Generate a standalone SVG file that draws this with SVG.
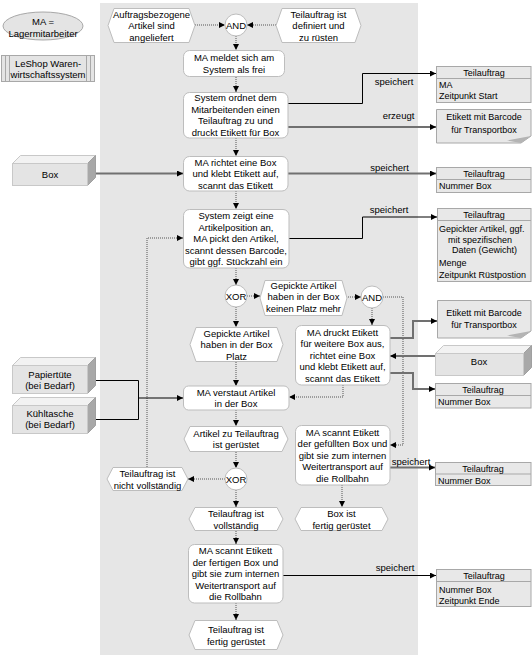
<svg xmlns="http://www.w3.org/2000/svg" width="532" height="660" viewBox="0 0 532 660">
<defs>
<marker id="ah" markerUnits="userSpaceOnUse" markerWidth="7" markerHeight="7" refX="6" refY="3" orient="auto"><path d="M0,0 L6,3 L0,6 z" fill="#000"/></marker>
<style>
text{font-family:"Liberation Sans",Arial,sans-serif;font-size:9.5px;fill:#000}
.c{text-anchor:middle}
.d{font-size:9px}
.node{fill:#fff;stroke:#bdbdbd;stroke-width:1}
.data{fill:#e8e8e8;stroke:#a8a8a8;stroke-width:1}
.dot{fill:none;stroke:#555;stroke-width:1;stroke-dasharray:1 1;marker-end:url(#ah)}
.blk{fill:none;stroke:#000;stroke-width:1}
.gry{fill:none;stroke:#707070;stroke-width:2}
.arr{marker-end:url(#ah)}
.top{fill:#f2f2f2;stroke:#c8c8c8}
.front{fill:#e4e4e4;stroke:#c8c8c8}
.side{fill:#a8a8a8;stroke:#a0a0a0}
</style>
</defs>
<rect x="0" y="0" width="532" height="660" fill="#fff"/>
<rect x="100" y="3" width="318" height="652" fill="#e6e6e6"/>

<!-- legend -->
<g id="legend-ma">
<ellipse cx="43" cy="26" rx="40" ry="14" fill="#e4e4e4" stroke="#a8a8a8"/>
<text class="c" x="43" y="25">MA =</text>
<text class="c" x="43" y="36.8">Lagermitarbeiter</text>
</g>
<g id="legend-leshop">
<rect x="1.5" y="55.5" width="93" height="26" fill="#e4e4e4" stroke="#a8a8a8"/>
<line x1="5.5" y1="55.5" x2="5.5" y2="81.5" stroke="#a8a8a8"/>
<line x1="9.5" y1="55.5" x2="9.5" y2="81.5" stroke="#a8a8a8"/>
<line x1="86.5" y1="55.5" x2="86.5" y2="81.5" stroke="#a8a8a8"/>
<line x1="90.5" y1="55.5" x2="90.5" y2="81.5" stroke="#a8a8a8"/>
<text class="c" x="48" y="66.5">LeShop Waren-</text>
<text class="c" x="48" y="77.5">wirtschaftssystem</text>
</g>

<!-- connectors -->
<g id="connectors">
<path class="dot" d="M195,25 H225"/>
<path class="dot" d="M276,25 H247"/>
<path class="dot" d="M236,36 V50"/>
<path class="dot" d="M236,77 V92"/>
<path class="dot" d="M236,138 V156"/>
<path class="dot" d="M236,191 V209"/>
<path class="dot" d="M236,268 V285"/>
<path class="dot" d="M247,296 H260"/>
<path class="dot" d="M346,297 H361"/>
<path class="dot" d="M372,308 V325"/>
<path class="dot" d="M383,297 H403 V445 H390"/>
<path class="dot" d="M236,307 V327"/>
<path class="dot" d="M236,362 V386"/>
<path class="dot" d="M343,385 V397 H289"/>
<path class="dot" d="M236,410 V426"/>
<path class="dot" d="M236,452 V468"/>
<path class="dot" d="M225,479 H188"/>
<path class="dot" d="M147,467 V238 H183"/>
<path class="dot" d="M236,490 V507"/>
<path class="dot" d="M236,531 V544"/>
<path class="dot" d="M236,603 V620"/>
<path class="dot" d="M342,485 V507"/>

<path class="blk arr" d="M288,103.5 H362.5 V73.5 H436"/>
<path class="gry arr" d="M288,127 H436"/>
<path class="gry arr" d="M87,173.5 H183"/>
<path class="gry arr" d="M288,173.5 H436"/>
<path class="blk arr" d="M289,238.5 H362.5 V217 H437"/>
<path class="gry arr" d="M390,338 H413 V321 H437"/>
<path class="gry arr" d="M435,356 H390"/>
<path class="gry arr" d="M390,373 H413 V389 H435"/>
<path class="gry arr" d="M390,467.5 H435"/>
<path class="blk arr" d="M283,575.5 H436"/>
<path class="blk" d="M87,380.5 H138.5 V419.5 H87"/>
<path class="blk arr" d="M138.5,398 H183"/>

<text class="c" x="394" y="85">speichert</text>
<text class="c" x="398.5" y="118.5">erzeugt</text>
<text class="c" x="389.5" y="170.5">speichert</text>
<text class="c" x="389" y="212.5">speichert</text>
<text class="c" x="411" y="464.5">speichert</text>
<text class="c" x="395" y="571">speichert</text>
</g>

<!-- flow nodes -->
<g id="ev-artikel-angeliefert">
<polygon class="node" points="114,8.5 189,8.5 195,25.5 189,42.5 114,42.5 108,25.5"/>
<text class="c" x="151.5" y="17.5">Auftragsbezogene</text>
<text class="c" x="151.5" y="29">Artikel sind</text>
<text class="c" x="151.5" y="40.5">angeliefert</text>
</g>
<g id="ev-teilauftrag-definiert">
<polygon class="node" points="282,8.5 355,8.5 361,25.5 355,42.5 282,42.5 276,25.5"/>
<text class="c" x="318.5" y="17.5">Teilauftrag ist</text>
<text class="c" x="318.5" y="29">definiert und</text>
<text class="c" x="318.5" y="40.5">zu rüsten</text>
</g>
<g id="and1">
<circle class="node" cx="236" cy="25" r="11"/>
<text class="c" x="236" y="28.5">AND</text>
</g>
<g id="fn-meldet">
<rect class="node" x="183.5" y="50.5" width="101" height="26" rx="6"/>
<text class="c" x="234" y="61">MA meldet sich am</text>
<text class="c" x="234" y="72.5">System als frei</text>
</g>
<g id="fn-ordnet">
<rect class="node" x="183.5" y="92.5" width="104.5" height="45.5" rx="6"/>
<text class="c" x="235.5" y="101.3">System ordnet dem</text>
<text class="c" x="235.5" y="112.8">Mitarbeitenden einen</text>
<text class="c" x="235.5" y="124.3">Teilauftrag zu und</text>
<text class="c" x="235.5" y="135.8">druckt Etikett für Box</text>
</g>
<g id="fn-richtet">
<rect class="node" x="183.5" y="156.5" width="104.5" height="34.5" rx="6"/>
<text class="c" x="235.5" y="165.5">MA richtet eine Box</text>
<text class="c" x="235.5" y="177">und klebt Etikett auf,</text>
<text class="c" x="235.5" y="188.5">scannt das Etikett</text>
</g>
<g id="fn-zeigt">
<rect class="node" x="183.5" y="209.5" width="105.5" height="58.5" rx="6"/>
<text class="c" x="236" y="219">System zeigt eine</text>
<text class="c" x="236" y="230.5">Artikelposition an,</text>
<text class="c" x="236" y="242">MA pickt den Artikel,</text>
<text class="c" x="236" y="253.5">scannt dessen Barcode,</text>
<text class="c" x="236" y="265">gibt ggf. Stückzahl ein</text>
</g>
<g id="xor1">
<circle class="node" cx="236" cy="296" r="11"/>
<text class="c" x="236" y="299.5">XOR</text>
</g>
<g id="ev-kein-platz">
<polygon class="node" points="265,280.5 342,280.5 347,298 342,315.5 265,315.5 260,298"/>
<text class="c" x="303.5" y="288.5">Gepickte Artikel</text>
<text class="c" x="303.5" y="300">haben in der Box</text>
<text class="c" x="303.5" y="311.5" textLength="75">keinen Platz mehr</text>
</g>
<g id="and2">
<circle class="node" cx="372" cy="297" r="11"/>
<text class="c" x="372" y="300.5">AND</text>
</g>
<g id="ev-platz">
<polygon class="node" points="196,327.5 277,327.5 283,344.5 277,361.5 196,361.5 190,344.5"/>
<text class="c" x="236.5" y="336.5">Gepickte Artikel</text>
<text class="c" x="236.5" y="348">haben in der Box</text>
<text class="c" x="236.5" y="359.5">Platz</text>
</g>
<g id="fn-druckt">
<rect class="node" x="295.5" y="325.5" width="94.5" height="59.5" rx="6"/>
<text class="c" x="342.5" y="335.5">MA druckt Etikett</text>
<text class="c" x="342.5" y="347">für weitere Box aus,</text>
<text class="c" x="342.5" y="358.5">richtet eine Box</text>
<text class="c" x="342.5" y="370">und klebt Etikett auf,</text>
<text class="c" x="342.5" y="381.5">scannt das Etikett</text>
</g>
<g id="fn-verstaut">
<rect class="node" x="183.5" y="386" width="105.5" height="24" rx="5"/>
<text class="c" x="236" y="395.5">MA verstaut Artikel</text>
<text class="c" x="236" y="407">in der Box</text>
</g>
<g id="ev-artikel-geruestet">
<polygon class="node" points="190,426.5 282,426.5 288,439 282,451.5 190,451.5 184,439"/>
<text class="c" x="236" y="436.5">Artikel zu Teilauftrag</text>
<text class="c" x="236" y="448">ist gerüstet</text>
</g>
<g id="fn-scannt-gefuellt">
<rect class="node" x="295.5" y="425.5" width="94.5" height="59.5" rx="6"/>
<text class="c" x="342.5" y="435.5">MA scannt Etikett</text>
<text class="c" x="342.5" y="447">der gefüllten Box und</text>
<text class="c" x="342.5" y="458.5">gibt sie zum internen</text>
<text class="c" x="342.5" y="470">Weitertransport auf</text>
<text class="c" x="342.5" y="481.5">die Rollbahn</text>
</g>
<g id="xor2">
<circle class="node" cx="236" cy="479" r="11"/>
<text class="c" x="236" y="482.5">XOR</text>
</g>
<g id="ev-nicht-vollstaendig">
<polygon class="node" points="113,467.5 182,467.5 188,479 182,490.5 113,490.5 107,479"/>
<text class="c" x="147.5" y="477">Teilauftrag ist</text>
<text class="c" x="147.5" y="488.5">nicht vollständig</text>
</g>
<g id="ev-vollstaendig">
<polygon class="node" points="195,507.5 277,507.5 283,519 277,530.5 195,530.5 189,519"/>
<text class="c" x="236" y="517">Teilauftrag ist</text>
<text class="c" x="236" y="528.5">vollständig</text>
</g>
<g id="ev-box-fertig">
<polygon class="node" points="301,507.5 382,507.5 388,519 382,530.5 301,530.5 295,519"/>
<text class="c" x="341.5" y="517">Box ist</text>
<text class="c" x="341.5" y="528.5">fertig gerüstet</text>
</g>
<g id="fn-scannt-fertig">
<rect class="node" x="188.5" y="544.5" width="94.5" height="58.5" rx="6"/>
<text class="c" x="235.5" y="554">MA scannt Etikett</text>
<text class="c" x="235.5" y="565.5">der fertigen Box und</text>
<text class="c" x="235.5" y="577">gibt sie zum internen</text>
<text class="c" x="235.5" y="588.5">Weitertransport auf</text>
<text class="c" x="235.5" y="600">die Rollbahn</text>
</g>
<g id="ev-teilauftrag-fertig">
<polygon class="node" points="195,620.5 277,620.5 283,635 277,649.5 195,649.5 189,635"/>
<text class="c" x="236" y="633">Teilauftrag ist</text>
<text class="c" x="236" y="644.5">fertig gerüstet</text>
</g>

<!-- left resources -->
<g id="res-box">
<polygon class="top" points="12.5,163.5 20.5,155.5 95.5,155.5 87.5,163.5"/>
<polygon class="side" points="87.5,163.5 95.5,155.5 95.5,177.5 87.5,185.5"/>
<rect class="front" x="12.5" y="163.5" width="75" height="22"/>
<text class="c" x="50" y="177.5">Box</text>
</g>
<g id="res-papiertuete">
<polygon class="top" points="12.5,365.5 20.5,357.5 95.5,357.5 87.5,365.5"/>
<polygon class="side" points="87.5,365.5 95.5,357.5 95.5,385.5 87.5,393.5"/>
<rect class="front" x="12.5" y="365.5" width="75" height="28"/>
<text class="c" x="50" y="377.5">Papiertüte</text>
<text class="c" x="50" y="388.5">(bei Bedarf)</text>
</g>
<g id="res-kuehltasche">
<polygon class="top" points="12.5,405.5 20.5,397.5 95.5,397.5 87.5,405.5"/>
<polygon class="side" points="87.5,405.5 95.5,397.5 95.5,425.5 87.5,433.5"/>
<rect class="front" x="12.5" y="405.5" width="75" height="28"/>
<text class="c" x="50" y="417">Kühltasche</text>
<text class="c" x="50" y="428">(bei Bedarf)</text>
</g>

<!-- right data objects -->
<g id="data-start">
<rect class="data" x="436.5" y="66.5" width="94.5" height="36"/>
<line x1="436.5" y1="78.5" x2="531" y2="78.5" stroke="#a8a8a8"/>
<text class="c d" x="484" y="76">Teilauftrag</text>
<text class="d" x="439" y="87.5">MA</text>
<text class="d" x="439" y="98.5">Zeitpunkt Start</text>
</g>
<g id="doc-etikett1">
<polygon class="data" points="436.5,109.5 531,109.5 531,136 521,143 436.5,143"/>
<polygon points="531,136 507,140.5 521,143" fill="#b4b4b4"/>
<text class="c d" x="484" y="120">Etikett mit Barcode</text>
<text class="c d" x="484" y="133">für Transportbox</text>
</g>
<g id="data-nummer1">
<rect class="data" x="436.5" y="167.5" width="94.5" height="25"/>
<line x1="436.5" y1="179.5" x2="531" y2="179.5" stroke="#a8a8a8"/>
<text class="c d" x="484" y="177">Teilauftrag</text>
<text class="d" x="439" y="189">Nummer Box</text>
</g>
<g id="data-pick">
<rect class="data" x="437.5" y="208.5" width="93.5" height="73"/>
<line x1="437.5" y1="220.5" x2="531" y2="220.5" stroke="#a8a8a8"/>
<text class="c d" x="484" y="218">Teilauftrag</text>
<text class="d" x="439" y="231.5">Gepickter Artikel, ggf.</text>
<text class="d" x="448" y="242.5">mit spezifischen</text>
<text class="d" x="452" y="253">Daten (Gewicht)</text>
<text class="d" x="439" y="266">Menge</text>
<text class="d" x="439" y="278">Zeitpunkt Rüstpostion</text>
</g>
<g id="doc-etikett2">
<polygon class="data" points="437.5,300.5 531,300.5 531,331 521,338 437.5,338"/>
<polygon points="531,331 507,335.5 521,338" fill="#b4b4b4"/>
<text class="c d" x="484" y="316">Etikett mit Barcode</text>
<text class="c d" x="484" y="328">für Transportbox</text>
</g>
<g id="res-box2">
<polygon class="top" points="435.5,353.5 443.5,345.5 531.5,345.5 523.5,353.5"/>
<polygon class="side" points="523.5,353.5 531.5,345.5 531.5,367.5 523.5,375.5"/>
<rect class="front" x="435.5" y="353.5" width="88" height="22"/>
<text class="c" x="479" y="365">Box</text>
</g>
<g id="data-nummer2">
<rect class="data" x="435.5" y="383.5" width="95.5" height="24.5"/>
<line x1="435.5" y1="395.5" x2="531" y2="395.5" stroke="#a8a8a8"/>
<text class="c d" x="483" y="392.5">Teilauftrag</text>
<text class="d" x="438" y="405">Nummer Box</text>
</g>
<g id="data-nummer3">
<rect class="data" x="435.5" y="462.5" width="95.5" height="23"/>
<line x1="435.5" y1="474" x2="531" y2="474" stroke="#a8a8a8"/>
<text class="c d" x="483" y="471.5">Teilauftrag</text>
<text class="d" x="438" y="483.5">Nummer Box</text>
</g>
<g id="data-ende">
<rect class="data" x="436.5" y="569.5" width="94.5" height="37"/>
<line x1="436.5" y1="581.5" x2="531" y2="581.5" stroke="#a8a8a8"/>
<text class="c d" x="484" y="579">Teilauftrag</text>
<text class="d" x="439" y="592.5">Nummer Box</text>
<text class="d" x="439" y="604">Zeitpunkt Ende</text>
</g>
</svg>
